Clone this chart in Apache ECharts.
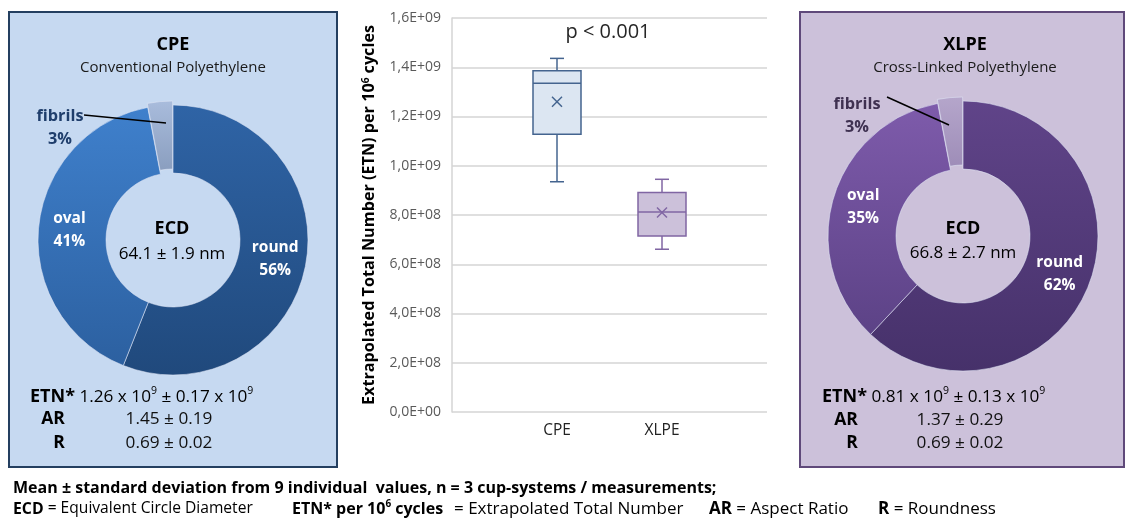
<!DOCTYPE html>
<html><head><meta charset="utf-8">
<script src="https://cdn.jsdelivr.net/npm/echarts@6/dist/echarts.min.js"></script>
<style>html,body{margin:0;padding:0;background:#fff}#c{width:1126px;height:523px}</style>
</head><body><div id="c"></div><script>
// ---- data ----
const categories = ['CPE', 'XLPE'];
// [min, q1, median, q3, max]
const cpeBox = [0.935e9, 1.128e9, 1.335e9, 1.386e9, 1.436e9];
const xlpeBox = [0.661e9, 0.715e9, 0.812e9, 0.891e9, 0.945e9];
const means = [1.26e9, 0.81e9];
const yTickLabels = ['0,0E+00','2,0E+08','4,0E+08','6,0E+08','8,0E+08','1,0E+09','1,2E+09','1,4E+09','1,6E+09'];
const shapeNames = ['round', 'oval', 'fibrils'];
const cpeShares = [56, 41, 3];
const xlpeShares = [62, 35, 3];

const FONT = '"Open Sans", Lato, sans-serif';
const G = echarts.graphic;
const lg = (a, b) => new G.LinearGradient(0, 0, 0, 1, [{offset: 0, color: a}, {offset: 1, color: b}]);

const cpeColors = [lg('#2f64a6', '#20497c'), lg('#3f80cc', '#2c60a0'), lg('#a9bcdc', '#8a9ebf')];
const xlpeColors = [lg('#604489', '#46316a'), lg('#7e5bab', '#5c4286'), lg('#b5a6cb', '#9e8db8')];
const boxFill = ['#dce6f2', '#ccc1da'];
const boxStroke = ['#44648f', '#8066a3'];

function pieSeries(center, shares, colors) {
  return {
    type: 'pie', center: center, radius: [67, 135], startAngle: 90, clockwise: true,
    avoidLabelOverlap: false, animation: false,
    selectedMode: 'single', selectedOffset: 4,
    itemStyle: {borderColor: 'rgba(225,232,245,0.55)', borderWidth: 1},
    label: {position: 'inside', formatter: '{b}\n{c}%', color: '#fff', fontWeight: 'bold',
      fontSize: 15.5, lineHeight: 23, fontFamily: FONT},
    labelLine: {show: false},
    emphasis: {disabled: true},
    tooltip: {show: false},
    data: shapeNames.map((n, i) => ({name: n, value: shares[i], itemStyle: {color: colors[i]},
      selected: i === 2, label: {show: i < 2}}))
  };
}

const boxData = [cpeBox, xlpeBox].map((b, i) => [i + 1, ...b, means[i]]);

const chart = echarts.init(document.getElementById('c'), null, {renderer: 'canvas'});

const supRich = {
  b: {fontWeight: 'bold', fontSize: 18, fontFamily: FONT, color: '#000', lineHeight: 22},
  n: {fontSize: 17.2, fontFamily: FONT, color: '#111', lineHeight: 22},
  s: {fontSize: 10.5, fontFamily: FONT, color: '#111', verticalAlign: 'top', lineHeight: 12}
};
const footRich = {
  fb: {fontWeight: 'bold', fontSize: 16, fontFamily: FONT, color: '#000', lineHeight: 20},
  fn: {fontSize: 16, fontFamily: FONT, color: '#000', lineHeight: 20},
  fs: {fontSize: 10, fontWeight: 'bold', fontFamily: FONT, color: '#000', verticalAlign: 'top', lineHeight: 11}
};
const footRichS = {
  fb: Object.assign({}, footRich.fb, {fontSize: 15.8}),
  fn: Object.assign({}, footRich.fn, {fontSize: 15.6})
};
const footRichL = {
  fb: Object.assign({}, footRich.fb, {fontSize: 17}),
  fn: Object.assign({}, footRich.fn, {fontSize: 17})
};
function txt(x, y, text, o) {
  o = o || {};
  return {type: 'text', x: x, y: y, z: 100, silent: true, style: Object.assign({
    text: text, fill: '#000', font: (o.weight || 'normal') + ' ' + (o.size || 16) + 'px ' + FONT,
    textAlign: o.align || 'center', textVerticalAlign: 'middle'}, o.style || {})};
}
function richTxt(x, y, text, align, rich) {
  return {type: 'text', x: x, y: y, z: 100, silent: true, style: {
    text: text, rich: rich, textAlign: align || 'left', textVerticalAlign: 'middle',
    fontFamily: FONT, fontSize: 16}};
}

const option = {
  backgroundColor: '#fff',
  animation: false,
  grid: {left: 452, top: 18, right: 359, bottom: 111},
  xAxis: {
    type: 'value', min: 0, max: 3, interval: 1,
    axisLine: {show: false}, axisTick: {show: false}, splitLine: {show: false},
    axisLabel: {formatter: v => categories[v - 1] || '', color: '#222', fontSize: 15.5, fontFamily: FONT, margin: 11}
  },
  yAxis: {
    type: 'value', min: 0, max: 1.6e9, interval: 2e8,
    axisLine: {show: true, lineStyle: {color: '#d4d4d4', width: 1.5}},
    axisTick: {show: false},
    splitLine: {lineStyle: {color: '#d4d4d4', width: 1.5}},
    axisLabel: {formatter: v => yTickLabels[Math.round(v / 2e8)], color: '#595959', fontSize: 14, fontFamily: FONT, margin: 11},
    name: 'Extrapolated Total Number (ETN) per 10{s|6} cycles',
    nameLocation: 'middle', nameRotate: 90, nameGap: 75,
    nameTextStyle: {fontWeight: 'bold', fontSize: 16.2, fontFamily: FONT, color: '#000',
      rich: {s: {fontSize: 10, fontWeight: 'bold', fontFamily: FONT, verticalAlign: 'top', lineHeight: 11}}}
  },
  graphic: [
    {type: 'rect', z: -10, silent: true, shape: {x: 9, y: 12, width: 328, height: 455},
      style: {fill: '#c6d9f1', stroke: '#243f60', lineWidth: 2}},
    {type: 'rect', z: -10, silent: true, shape: {x: 800, y: 12, width: 324, height: 455},
      style: {fill: '#ccc1da', stroke: '#5f497a', lineWidth: 2}},
    // left panel
    txt(173, 45, 'CPE', {weight: 'bold', size: 18}),
    txt(173, 68, 'Conventional Polyethylene', {size: 15, style: {fill: '#1a1a1a'}}),
    txt(60, 116, 'fibrils', {weight: 'bold', size: 16.3, style: {fill: '#1f3e6c'}}),
    txt(60, 139, '3%', {weight: 'bold', size: 16.3, style: {fill: '#1f3e6c'}}),
    {type: 'line', z: 100, silent: true, shape: {x1: 84, y1: 115, x2: 166, y2: 123}, style: {stroke: '#000', lineWidth: 1.5}},
    txt(172, 229, 'ECD', {weight: 'bold', size: 18}),
    txt(172, 254, '64.1 \u00b1 1.9 nm', {size: 17}),
    richTxt(30, 397, '{b|ETN*}{n| 1.26 x 10}{s|9}{n| \u00b1 0.17 x 10}{s|9}', 'left', supRich),
    txt(53, 419, 'AR', {weight: 'bold', size: 17.5}),
    txt(169, 419, '1.45 \u00b1 0.19', {size: 17.2, style: {fill: '#111'}}),
    txt(59, 443, 'R', {weight: 'bold', size: 17.5}),
    txt(169, 443, '0.69 \u00b1 0.02', {size: 17.2, style: {fill: '#111'}}),
    // right panel
    txt(965, 45, 'XLPE', {weight: 'bold', size: 18}),
    txt(965, 68, 'Cross-Linked Polyethylene', {size: 15, style: {fill: '#1a1a1a'}}),
    txt(857, 104, 'fibrils', {weight: 'bold', size: 16.3, style: {fill: '#3f3151'}}),
    txt(857, 127, '3%', {weight: 'bold', size: 16.3, style: {fill: '#3f3151'}}),
    {type: 'line', z: 100, silent: true, shape: {x1: 887, y1: 97, x2: 949, y2: 125}, style: {stroke: '#000', lineWidth: 1.5}},
    txt(963, 229, 'ECD', {weight: 'bold', size: 18}),
    txt(963, 253, '66.8 \u00b1 2.7 nm', {size: 17}),
    richTxt(822, 397, '{b|ETN*}{n| 0.81 x 10}{s|9}{n| \u00b1 0.13 x 10}{s|9}', 'left', supRich),
    txt(846, 420, 'AR', {weight: 'bold', size: 17.5}),
    txt(960, 420, '1.37 \u00b1 0.29', {size: 17.2, style: {fill: '#111'}}),
    txt(852, 443, 'R', {weight: 'bold', size: 17.5}),
    txt(960, 443, '0.69 \u00b1 0.02', {size: 17.2, style: {fill: '#111'}}),
    // middle
    txt(608, 32, 'p < 0.001', {size: 20, style: {fill: '#262626'}}),
    // footer
    txt(13, 488, 'Mean \u00b1 standard deviation from 9 individual  values, n = 3 cup-systems / measurements;', {weight: 'bold', size: 16, align: 'left'}),
    richTxt(13, 509, '{fb|ECD}{fn| = Equivalent Circle Diameter}', 'left', footRichS),
    richTxt(292, 509, '{fb|ETN* per 10}{fs|6}{fb| cycles}', 'left', footRich),
    richTxt(454, 509, '{fn|= Extrapolated Total Number}', 'left', footRichL),
    richTxt(709, 509, '{fb|AR}{fn| = Aspect Ratio}', 'left', footRichL),
    richTxt(878, 509, '{fb|R}{fn| = Roundness}', 'left', footRichL)
  ],
  series: [
    pieSeries([173, 240], cpeShares, cpeColors),
    pieSeries([963, 236], xlpeShares, xlpeColors),
    {
      type: 'custom', silent: true, animation: false,
      data: boxData,
      encode: {x: 0, y: [1, 2, 3, 4, 5, 6]},
      renderItem: function (params, api) {
        const i = params.dataIndex;
        const x = api.value(0);
        const p = [1, 2, 3, 4, 5].map(k => api.coord([x, api.value(k)]));
        const m = api.coord([x, api.value(6)]);
        const cx = p[0][0], hw = 24, cw = 7, mk = 5;
        const st = {stroke: boxStroke[i], lineWidth: 1.5, fill: null};
        const L = (x1, y1, x2, y2) => ({type: 'line', shape: {x1, y1, x2, y2}, style: st});
        return {type: 'group', children: [
          L(cx, p[3][1], cx, p[4][1]), L(cx - cw, p[4][1], cx + cw, p[4][1]),
          L(cx, p[1][1], cx, p[0][1]), L(cx - cw, p[0][1], cx + cw, p[0][1]),
          {type: 'rect', shape: {x: cx - hw, y: p[3][1], width: 2 * hw, height: p[1][1] - p[3][1]},
            style: {fill: boxFill[i], stroke: boxStroke[i], lineWidth: 1.5}},
          L(cx - hw, p[2][1], cx + hw, p[2][1]),
          L(m[0] - mk, m[1] - mk, m[0] + mk, m[1] + mk), L(m[0] - mk, m[1] + mk, m[0] + mk, m[1] - mk)
        ]};
      }
    }
  ]
};
chart.setOption(option);
</script></body></html>
